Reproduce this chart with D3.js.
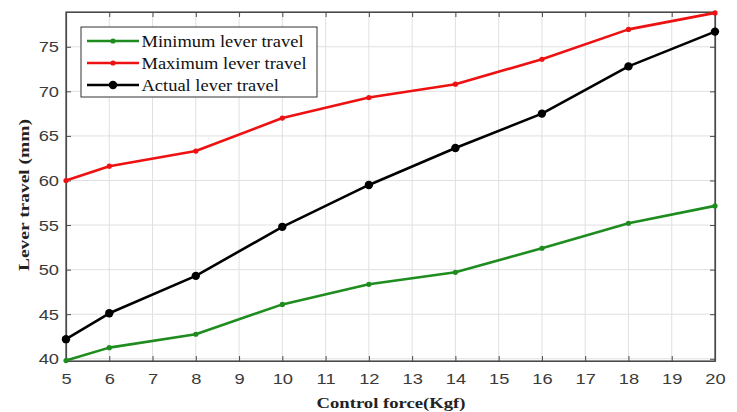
<!DOCTYPE html>
<html>
<head>
<meta charset="utf-8">
<script src="https://cdn.jsdelivr.net/npm/d3@7"></script>
<style>
  body { margin: 0; background: #fff; }
  svg { display: block; }
</style>
</head>
<body>
<div id="chart"></div>
<script>
var forces = [5, 6, 8, 10, 12, 14, 16, 18, 20];
var minTravel = [39.8, 41.25, 42.75, 46.1, 48.35, 49.7, 52.4, 55.2, 57.15];
var maxTravel = [60.0, 61.6, 63.3, 67.0, 69.3, 70.8, 73.6, 76.95, 78.8];
var actualTravel = [42.2, 45.1, 49.3, 54.8, 59.5, 63.65, 67.5, 72.8, 76.7];
var xTicks = d3.range(5, 21);
var yTicks = [40, 45, 50, 55, 60, 65, 70, 75];

var series = [
    {name: "Minimum lever travel", values: minTravel, color: "#1e8c1e", r: 2.6},
    {name: "Maximum lever travel", values: maxTravel, color: "#ee1111", r: 2.6},
    {name: "Actual lever travel", values: actualTravel, color: "#000000", r: 4.2}
];

var width = 737, height = 412;
var marginLeft = 66, marginRight = 22, marginTop = 12, marginBottom = 51;

var serif = "'Liberation Serif', 'Times New Roman', serif";
var sans = "'Liberation Sans', Arial, sans-serif";

// the picture's text is drawn a bit wider than the fonts are
function stretch(sel, k) {
    sel.each(function(){
        var w = this.getComputedTextLength();
        if (w > 0) {
            d3.select(this).attr("textLength", w * k).attr("lengthAdjust", "spacingAndGlyphs");
        }
    });
}

var x = d3.scaleLinear()
        .domain([5, 20])
        .range([marginLeft, width - marginRight]);

var y = d3.scaleLinear()
        .domain([39.75, 78.9])
        .range([height - marginBottom, marginTop]);

var svg = d3.select("#chart").append("svg")
            .attr("width", width)
            .attr("height", height);

// grid
svg.append("g").selectAll("line")
    .data(xTicks)
    .enter().append("line")
    .attr("x1", function(d){ return x(d); })
    .attr("x2", function(d){ return x(d); })
    .attr("y1", marginTop)
    .attr("y2", height - marginBottom)
    .attr("stroke", "#e0e0e0")
    .attr("stroke-width", 1);

svg.append("g").selectAll("line")
    .data(yTicks)
    .enter().append("line")
    .attr("x1", marginLeft)
    .attr("x2", width - marginRight)
    .attr("y1", function(d){ return y(d); })
    .attr("y2", function(d){ return y(d); })
    .attr("stroke", "#e0e0e0")
    .attr("stroke-width", 1);

// axes, ticks pointing inward
var xAxis = svg.append("g")
    .attr("transform", "translate(0," + (height - marginBottom) + ")")
    .call(d3.axisBottom(x).tickValues(xTicks).tickSizeInner(-5).tickSizeOuter(0).tickPadding(12));

var xAxisTop = svg.append("g")
    .attr("transform", "translate(0," + marginTop + ")")
    .call(d3.axisTop(x).tickValues(xTicks).tickSizeInner(-5).tickSizeOuter(0).tickFormat(""));

var yAxis = svg.append("g")
    .attr("transform", "translate(" + marginLeft + ",0)")
    .call(d3.axisLeft(y).tickValues(yTicks).tickSizeInner(-5).tickSizeOuter(0).tickPadding(7));

var yAxisRight = svg.append("g")
    .attr("transform", "translate(" + (width - marginRight) + ",0)")
    .call(d3.axisRight(y).tickValues(yTicks).tickSizeInner(-5).tickSizeOuter(0).tickFormat(""));

[xAxis, xAxisTop, yAxis, yAxisRight].forEach(function(a){
    a.select(".domain").attr("stroke", "#4a4a4a").attr("stroke-width", 1.2);
    a.selectAll(".tick line").attr("stroke", "#4a4a4a");
    a.selectAll("text")
        .attr("font-family", sans)
        .attr("font-size", 15.5)
        .attr("fill", "#3a3a3a");
});
stretch(xAxis.selectAll("text"), 1.18);
stretch(yAxis.selectAll("text"), 1.18);

// full box edges
svg.append("rect")
    .attr("x", marginLeft)
    .attr("y", marginTop)
    .attr("width", width - marginLeft - marginRight)
    .attr("height", height - marginTop - marginBottom)
    .attr("fill", "none")
    .attr("stroke", "#4a4a4a")
    .attr("stroke-width", 1.2);

// lines
var line = d3.line()
    .x(function(d, i){ return x(forces[i]); })
    .y(function(d){ return y(d); });

var groups = svg.selectAll(".series")
    .data(series)
    .enter().append("g")
    .attr("class", "series");

groups.append("path")
    .attr("d", function(d){ return line(d.values); })
    .attr("fill", "none")
    .attr("stroke", function(d){ return d.color; })
    .attr("stroke-width", 2.6)
    .attr("stroke-linejoin", "round");

groups.selectAll("circle")
    .data(function(d){
        return d.values.map(function(v, i){ return {v: v, f: forces[i], color: d.color, r: d.r}; });
    })
    .enter().append("circle")
    .attr("cx", function(d){ return x(d.f); })
    .attr("cy", function(d){ return y(d.v); })
    .attr("r", function(d){ return d.r; })
    .attr("fill", function(d){ return d.color; });

// legend
var legend = svg.append("g").attr("transform", "translate(81,27)");
legend.append("rect")
    .attr("width", 236)
    .attr("height", 70)
    .attr("fill", "#fff")
    .attr("stroke", "#333")
    .attr("stroke-width", 1);

var items = legend.selectAll(".item")
    .data(series)
    .enter().append("g")
    .attr("class", "item")
    .attr("transform", function(d, i){ return "translate(0," + (14 + i * 22) + ")"; });

items.append("line")
    .attr("x1", 6).attr("x2", 58)
    .attr("stroke", function(d){ return d.color; })
    .attr("stroke-width", 2.6);

items.append("circle")
    .attr("cx", 32)
    .attr("r", function(d){ return d.r; })
    .attr("fill", function(d){ return d.color; });

var legendText = items.append("text")
    .attr("x", 60.5)
    .attr("dy", "0.34em")
    .attr("font-family", serif)
    .attr("font-size", 17.5)
    .attr("fill", "#111")
    .text(function(d){ return d.name; });
stretch(legendText, 1.055);

// axis labels
var xLabel = svg.append("text")
    .attr("x", 391)
    .attr("y", 408)
    .attr("text-anchor", "middle")
    .attr("font-family", serif)
    .attr("font-weight", "bold")
    .attr("font-size", 15)
    .attr("fill", "#222")
    .text("Control force(Kgf)");
xLabel.attr("textLength", 149).attr("lengthAdjust", "spacingAndGlyphs");

var yLabel = svg.append("text")
    .attr("transform", "translate(28.5,195) rotate(-90)")
    .attr("text-anchor", "middle")
    .attr("font-family", serif)
    .attr("font-weight", "bold")
    .attr("font-size", 15)
    .attr("fill", "#222")
    .text("Lever travel (mm)");
yLabel.attr("textLength", 152).attr("lengthAdjust", "spacingAndGlyphs");
</script>
</body>
</html>
